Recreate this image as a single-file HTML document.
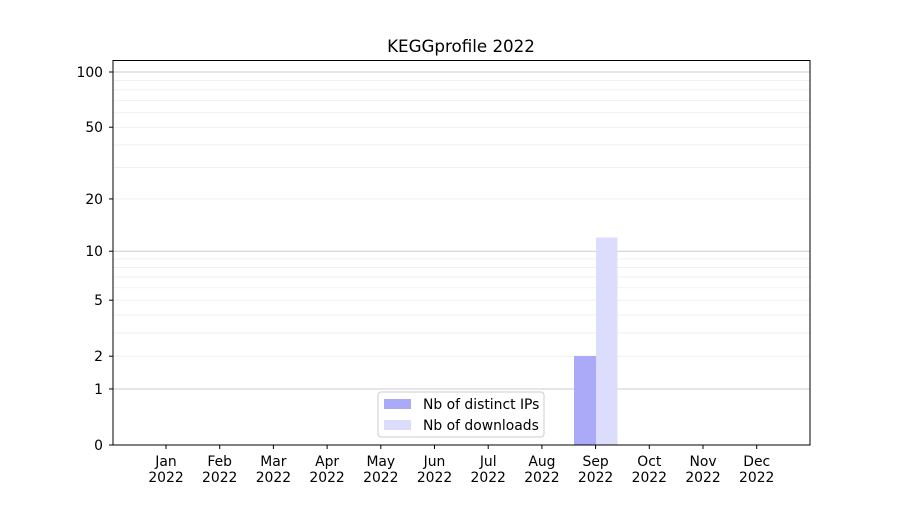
<!DOCTYPE html>
<html><head><style>body{margin:0;background:#fff}svg{font-family:"DejaVu Sans","Liberation Sans",sans-serif}</style></head><body>
<svg width="900" height="500" xmlns="http://www.w3.org/2000/svg">
<text x="461" y="52" font-size="16.7" text-anchor="middle">KEGGprofile 2022</text>
<g id="grid"></g>
<rect x="574" y="356" width="22" height="89" fill="#aaaaf8"/>
<rect x="596" y="237.5" width="21.5" height="207.5" fill="#dcdcfc"/>
<rect x="113" y="60.5" width="697" height="384.5" fill="none" stroke="#000" stroke-width="1"/>
<g font-size="13.9" text-anchor="end" id="yl"></g>
<g font-size="13.9" text-anchor="middle" id="xl"></g>
<rect x="378" y="392" width="166" height="45" fill="#fff" stroke="#ccc" rx="3"/>
<rect x="384" y="399" width="27" height="10" fill="#aaaaf8"/>
<rect x="384" y="420" width="27" height="10" fill="#dcdcfc"/>
<text x="423" y="409" font-size="13.9">Nb of distinct IPs</text>
<text x="423" y="430" font-size="13.9">Nb of downloads</text>
<script>
var ns="http://www.w3.org/2000/svg";function Y(v){return 445-186.1*Math.log10(1+v);}
function el(p,t,a,tx){var e=document.createElementNS(ns,t);for(var k in a)e.setAttribute(k,a[k]);if(tx)e.textContent=tx;document.getElementById(p).appendChild(e);}
[2,3,4,5,6,7,8,9,20,30,40,50,60,70,80,90].forEach(function(v){var y=Y(v);el("grid","line",{x1:113,x2:810,y1:y,y2:y,stroke:"#eee","stroke-width":0.8});});
[1,10,100].forEach(function(v){var y=Y(v);el("grid","line",{x1:113,x2:810,y1:y,y2:y,stroke:"#ccc","stroke-width":1});});
[0,1,2,5,10,20,50,100].forEach(function(v){var y=Y(v);el("yl","line",{x1:109,x2:113,y1:y,y2:y,stroke:"#000"});el("yl","text",{x:103,y:y+5},String(v));});
var m=["Jan","Feb","Mar","Apr","May","Jun","Jul","Aug","Sep","Oct","Nov","Dec"];
m.forEach(function(s,i){var x=166+i*53.7;el("xl","line",{x1:x,x2:x,y1:445,y2:449,stroke:"#000"});el("xl","text",{x:x,y:466},s);el("xl","text",{x:x,y:482},"2022");});
</script>
</svg></body></html>
